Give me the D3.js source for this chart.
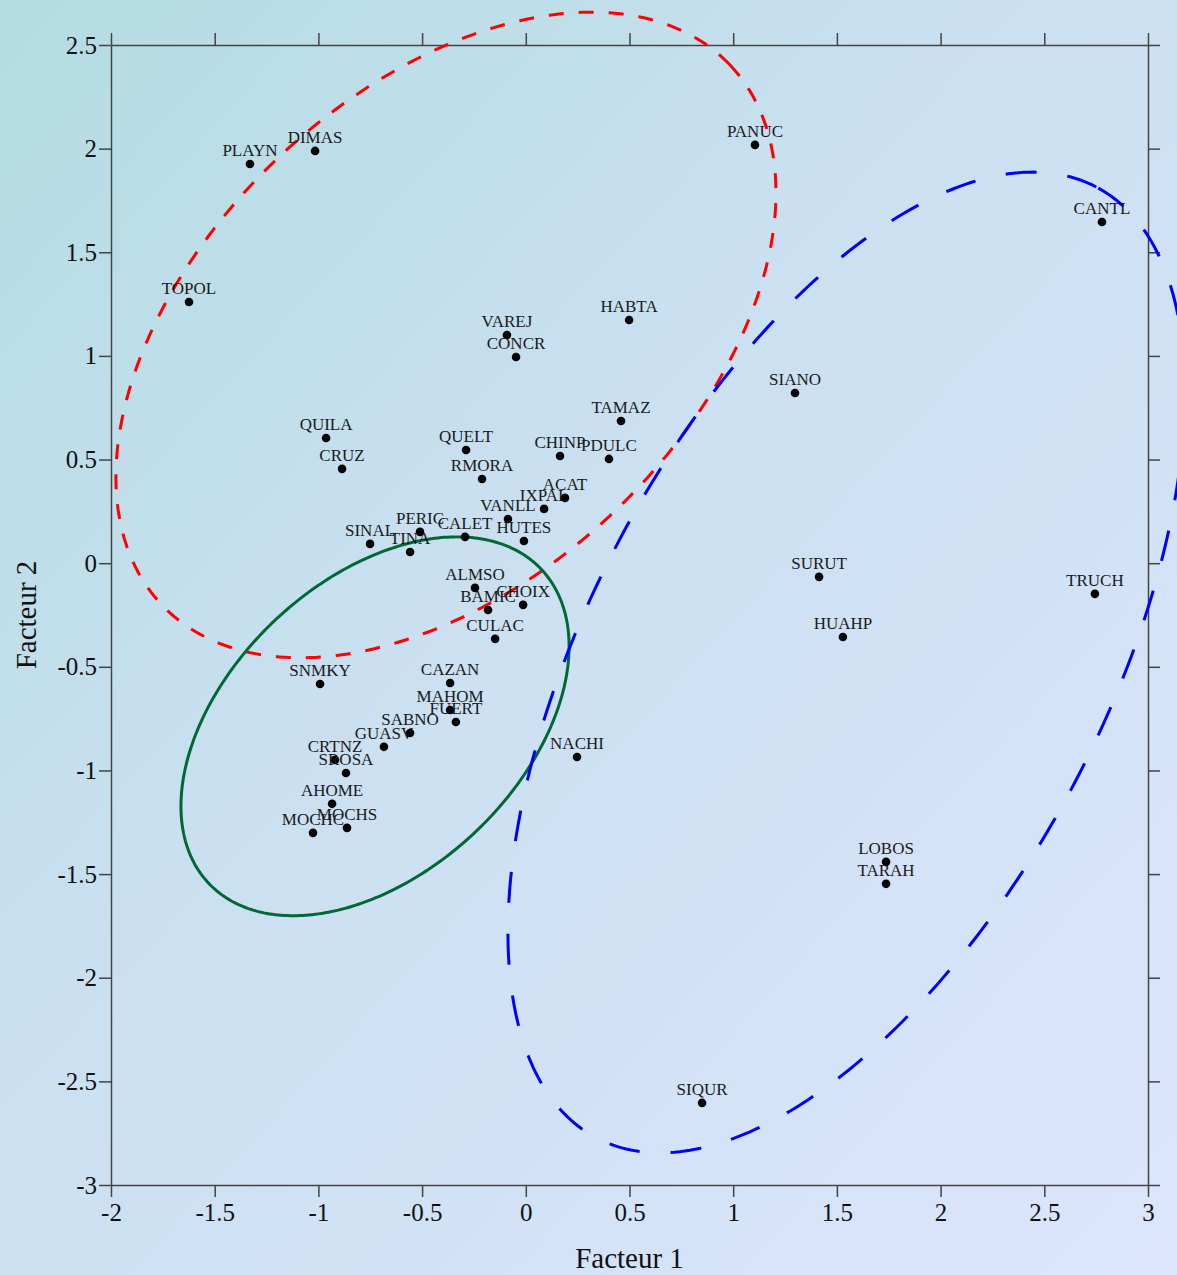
<!DOCTYPE html>
<html>
<head>
<meta charset="utf-8">
<script src="https://cdn.jsdelivr.net/npm/d3@7"></script>
<style>
  html, body { margin: 0; padding: 0; }
  body { width: 1177px; height: 1275px; overflow: hidden; }
  svg { display: block; }
</style>
</head>
<body>
<svg id="chart" width="1177" height="1275"></svg>
<script>
// ---- data ----
const names = ["PLAYN","DIMAS","TOPOL","PANUC","CANTL","HABTA","VAREJ","CONCR","SIANO","TAMAZ",
  "QUILA","QUELT","CHINP","PDULC","CRUZ","RMORA","ACAT","IXPAL","VANLL","HUTES",
  "CALET","PERIC","TINA","SINAL","ALMSO","CHOIX","BAMIC","CULAC","SNMKY","CAZAN",
  "MAHOM","FUERT","SABNO","GUASV","CRTNZ","SROSA","AHOME","MOCHS","MOCHC","NACHI",
  "SURUT","TRUCH","HUAHP","LOBOS","TARAH","SIQUR"];
const factor1 = [-1.33,-1.016,-1.624,1.105,2.778,0.498,-0.091,-0.047,1.298,0.459,
  -0.963,-0.288,0.165,0.401,-0.886,-0.211,0.189,0.088,-0.086,-0.009,
  -0.293,-0.510,-0.558,-0.751,-0.245,-0.013,-0.182,-0.148,-0.992,-0.365,
  -0.365,-0.337,-0.558,-0.684,-0.920,-0.867,-0.934,-0.862,-1.026,0.247,
  1.414,2.744,1.529,1.737,1.737,0.850];
const factor2 = [1.926,1.989,1.260,2.018,1.646,1.173,1.101,0.995,0.821,0.686,
  0.604,0.546,0.517,0.503,0.455,0.406,0.315,0.262,0.213,0.107,
  0.127,0.151,0.054,0.093,-0.119,-0.201,-0.226,-0.365,-0.583,-0.578,
  -0.708,-0.766,-0.819,-0.886,-0.949,-1.012,-1.161,-1.277,-1.301,-0.935,
  -0.066,-0.148,-0.356,-1.441,-1.547,-2.604];

// ellipses (data units): centre, semi-axes, rotation (deg)
const ellipseCx    = [-0.385, -0.727, 1.546];
const ellipseCy    = [1.101, -0.787, -0.479];
const ellipseA     = [1.890, 1.103, 2.591];
const ellipseB     = [1.177, 0.703, 1.244];
const ellipseAngle = [43.6, 43.4, 62.3];
const ellipseColor = ["#ff0000", "#006837", "#0000ff"];
const ellipseDash  = ["15,15", null, "31,31"];

const xTicks = [-2,-1.5,-1,-0.5,0,0.5,1,1.5,2,2.5,3];
const yTicks = [-3,-2.5,-2,-1.5,-1,-0.5,0,0.5,1,1.5,2,2.5];
const xTitle = "Facteur 1";
const yTitle = "Facteur 2";

// ---- layout ----
const W = 1177, H = 1275;
const m = {left: 111, right: 29, top: 45, bottom: 90};
const svg = d3.select("#chart");

const defs = svg.append("defs");
const grad = defs.append("linearGradient").attr("id","bg")
  .attr("x1","0%").attr("y1","0%").attr("x2","100%").attr("y2","100%");
grad.append("stop").attr("offset","0%").attr("stop-color","#b3dce2");
grad.append("stop").attr("offset","45%").attr("stop-color","#cbe0f1");
grad.append("stop").attr("offset","100%").attr("stop-color","#dce5fc");
svg.append("rect").attr("width",W).attr("height",H).attr("fill","url(#bg)");

const x = d3.scaleLinear().domain([-2,3]).range([m.left, W - m.right]);
const y = d3.scaleLinear().domain([-3,2.5]).range([H - m.bottom, m.top]);

const fmt = d => String(d);
const axisColor = "#444";
const tickFont = "Liberation Serif, Times New Roman, serif";

function styleAxis(g) {
  g.selectAll("path.domain").attr("stroke", axisColor).attr("stroke-width", 1.5);
  g.selectAll(".tick line").attr("stroke", axisColor).attr("stroke-width", 1.5);
  g.selectAll(".tick text").attr("fill", "#111").style("font-family", tickFont).style("font-size", "25px");
}

svg.append("g").attr("transform", `translate(0,${y(-3)})`)
  .call(d3.axisBottom(x).tickValues(xTicks).tickFormat(fmt).tickSize(12).tickSizeOuter(0).tickPadding(6))
  .call(styleAxis);
svg.append("g").attr("transform", `translate(${x(-2)},0)`)
  .call(d3.axisLeft(y).tickValues(yTicks).tickFormat(fmt).tickSize(12).tickSizeOuter(0).tickPadding(2))
  .call(styleAxis);
svg.append("g").attr("transform", `translate(0,${y(2.5)})`)
  .call(d3.axisTop(x).tickValues(xTicks).tickFormat("").tickSize(12).tickSizeOuter(0))
  .call(styleAxis);
svg.append("g").attr("transform", `translate(${x(3)},0)`)
  .call(d3.axisRight(y).tickValues(yTicks).tickFormat("").tickSize(12).tickSizeOuter(0))
  .call(styleAxis);

// ---- ellipses ----
const line = d3.line().x(d => x(d[0])).y(d => y(d[1]));
ellipseCx.forEach((cx, i) => {
  const a = ellipseA[i], b = ellipseB[i], th = ellipseAngle[i] * Math.PI / 180;
  const pts = d3.range(0, 361, 1).map(t => {
    const r = t * Math.PI / 180;
    const ex = a * Math.cos(r), ey = b * Math.sin(r);
    return [cx + ex * Math.cos(th) - ey * Math.sin(th), ellipseCy[i] + ex * Math.sin(th) + ey * Math.cos(th)];
  });
  svg.append("path").attr("d", line(pts)).attr("fill","none")
    .attr("stroke", ellipseColor[i]).attr("stroke-width", 3)
    .attr("stroke-dasharray", ellipseDash[i]);
});

// ---- points and labels ----
const pts = names.map((n, i) => ({name: n, f1: factor1[i], f2: factor2[i]}));
svg.append("g").selectAll("circle").data(pts).join("circle")
  .attr("cx", d => x(d.f1)).attr("cy", d => y(d.f2)).attr("r", 4.3).attr("fill", "#000");
svg.append("g").selectAll("text").data(pts).join("text")
  .attr("x", d => x(d.f1)).attr("y", d => y(d.f2) - 8)
  .attr("text-anchor", "middle")
  .style("font-family", tickFont).style("font-size", "17px").attr("fill", "#1a1a1a")
  .text(d => d.name);

// ---- titles ----
svg.append("text").attr("x", (x(-2) + x(3)) / 2).attr("y", 1268)
  .attr("text-anchor","middle").style("font-family", tickFont).style("font-size","29px").attr("fill","#111")
  .text(xTitle);
svg.append("text").attr("transform", `translate(36,${(y(-3) + y(2.5)) / 2}) rotate(-90)`)
  .attr("text-anchor","middle").style("font-family", tickFont).style("font-size","29px").attr("fill","#111")
  .text(yTitle);
</script>
</body>
</html>
